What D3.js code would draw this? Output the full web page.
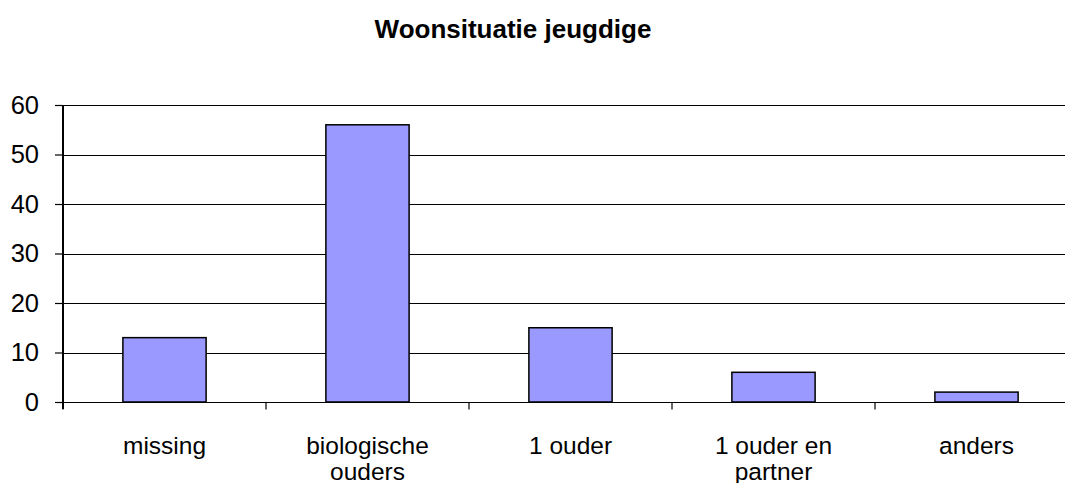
<!DOCTYPE html>
<html><head><meta charset="utf-8">
<script src="https://cdn.jsdelivr.net/npm/d3@7"></script>
<style>body{margin:0;background:#fff}svg{display:block}text{font-family:"Liberation Sans",Arial,sans-serif}</style>
</head><body>
<script>
const categories = [["missing"],["biologische","ouders"],["1 ouder"],["1 ouder en","partner"],["anders"]];
const values = [13, 56, 15, 6, 2];
const yTicks = [0,10,20,30,40,50,60];
const title = "Woonsituatie jeugdige";

const W = 1065, H = 483;
const m = {left:63, right:-13, top:105, bottom:81};
const svg = d3.select("body").append("svg").attr("width",W).attr("height",H);
const x = d3.scaleBand().domain(d3.range(categories.length)).range([m.left, W - m.right]).paddingInner(0.59).paddingOuter(0.295);
const xb = d3.scaleBand().domain(d3.range(categories.length)).range([m.left, W - m.right]);
const y = d3.scaleLinear().domain([0,60]).range([H - m.bottom, m.top]);

svg.append("text").attr("x",513).attr("y",38).attr("text-anchor","middle")
  .style("font-size","26px").style("font-weight","bold").text(title);

// gridlines
svg.append("g").selectAll("line").data(yTicks.filter(d=>d>0)).join("line")
  .attr("x1",m.left).attr("x2",W).attr("y1",d=>Math.round(y(d))+0.5).attr("y2",d=>Math.round(y(d))+0.5)
  .attr("stroke","#000").attr("stroke-width",1.2);

// y axis
const ya = svg.append("g").attr("transform",`translate(${m.left},0)`)
  .call(d3.axisLeft(y).tickValues(yTicks).tickSize(8).tickPadding(16));
ya.select(".domain").remove();
ya.selectAll(".tick line").attr("stroke","#000").attr("stroke-width",1.2);
ya.selectAll(".tick text").style("font-size","25.5px").attr("fill","#000");

// bars
svg.append("g").selectAll("rect").data(values).join("rect")
  .attr("x",(d,i)=>x(i)).attr("width",x.bandwidth())
  .attr("y",d=>y(d)).attr("height",d=>y(0)-y(d))
  .attr("fill","#9999FF").attr("stroke","#000").attr("stroke-width",1.5);

// x axis
const xa = svg.append("g").attr("transform",`translate(0,${Math.round(y(0))+0.5})`);
xa.append("line").attr("x1",m.left).attr("x2",W).attr("stroke","#000").attr("stroke-width",1.2);
xa.selectAll("line.t").data(d3.range(categories.length+1)).join("line").attr("class","t")
  .attr("x1",i=>m.left + i*xb.step()).attr("x2",i=>m.left + i*xb.step())
  .attr("y1",0).attr("y2",7).attr("stroke","#000").attr("stroke-width",1.2);
const lab = xa.selectAll("text").data(categories).join("text")
  .attr("text-anchor","middle").style("font-size","24.5px").attr("fill","#000")
  .attr("transform",(d,i)=>`translate(${xb(i)+xb.bandwidth()/2},51)`);
lab.selectAll("tspan").data(d=>d).join("tspan").attr("x",0).attr("dy",(d,j)=>j?26:0).text(d=>d);

// left axis line
svg.append("line").attr("x1",m.left).attr("x2",m.left).attr("y1",m.top).attr("y2",y(0)+7)
  .attr("stroke","#000").attr("stroke-width",2);
</script>
</body></html>
